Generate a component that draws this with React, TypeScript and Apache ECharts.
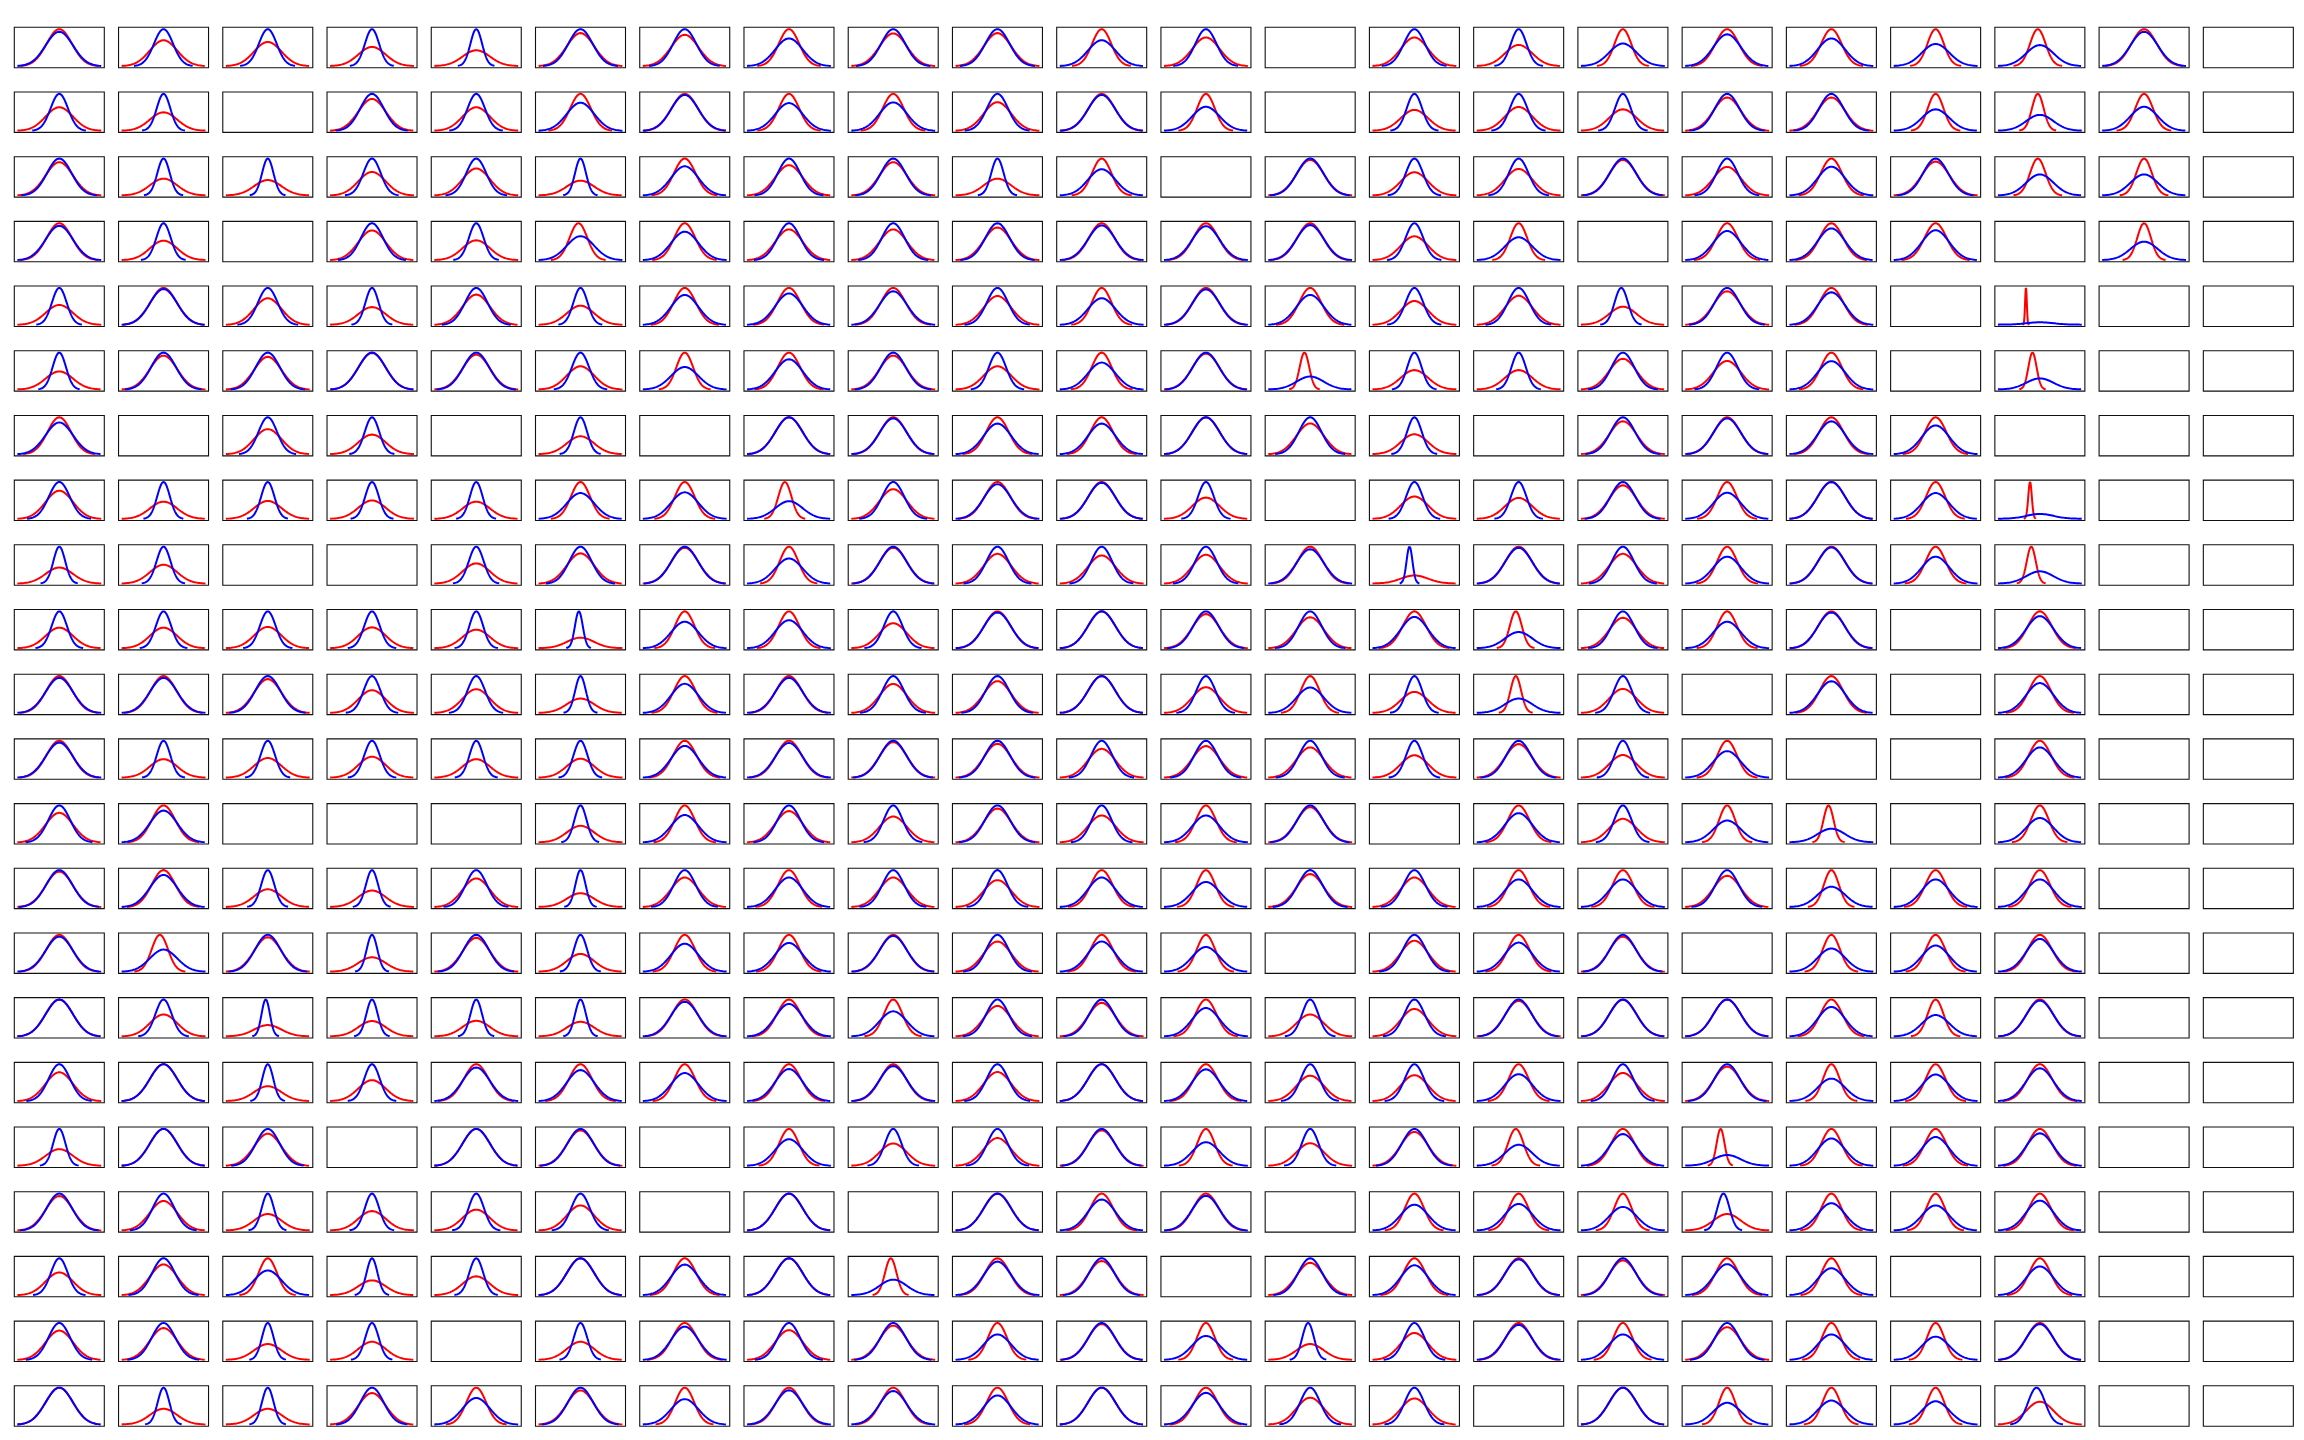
import React, { useEffect, useRef } from "react";
import * as echarts from "echarts";

// Each panel: two normal curves (red drawn first, blue on top), each plotted over mean ± 3σ.
// Value per panel = peak height of the blue curve / peak height of the red curve
// (= σ_red / σ_blue). null = empty panel.
const row01 = [0.93, 1.43, 1.53, 1.93, 2.34, 1.12, 1.18, 0.75, 1.13, 1.12, 0.70, 1.29, null, 1.29, 1.75, 0.61, 0.86, 0.75, 0.60, 0.57, 0.93, null];
const row02 = [1.57, 2.0, null, 1.16, 1.57, 0.76, 0.97, 0.75, 0.77, 1.29, 0.97, 0.65, null, 1.77, 1.55, 1.72, 1.11, 1.11, 0.58, 0.43, 0.65, null];
const row03 = [1.11, 2.2, 2.4, 1.57, 1.37, 2.5, 0.79, 1.22, 1.11, 2.2, 0.71, null, 1.04, 1.59, 1.39, 1.04, 1.29, 0.78, 1.09, 0.57, 0.57, null];
const row04 = [0.93, 1.9, null, 1.24, 1.86, 0.65, 0.77, 1.2, 1.2, 1.13, 0.94, 0.92, 0.95, 1.55, 0.62, null, 0.79, 0.86, 0.81, null, 0.5, null];
const row05 = [1.86, 0.97, 1.39, 2.08, 1.22, 1.93, 0.81, 0.85, 0.91, 1.28, 0.72, 0.96, 0.81, 1.55, 1.27, 2.04, 1.1, 0.88, null, 0.064, null, null];
const row06 = [2.04, 1.09, 1.13, 1.01, 1.06, 1.59, 0.61, 0.82, 1.09, 1.59, 0.73, 1.03, 0.35, 1.9, 1.9, 1.2, 1.29, 0.77, null, 0.30, null, null];
const row07 = [0.86, null, 1.47, 1.88, null, 2.06, null, 1.0, 0.97, 0.83, 0.83, 1.0, 1.2, 1.85, null, 1.12, 0.97, 0.89, 0.78, null, null, null];
const row08 = [1.31, 2.14, 2.06, 2.0, 2.14, 0.70, 0.72, 0.48, 1.24, 0.94, 0.98, 1.73, null, 1.65, 1.76, 1.1, 0.71, 1.0, 0.70, 0.13, null, null];
const row09 = [2.3, 1.96, null, null, 1.83, 1.22, 1.03, 0.68, 1.03, 1.24, 1.31, 1.28, 0.93, 4.6, 0.97, 1.24, 0.73, 0.98, 0.73, 0.33, null, null];
const row10 = [1.79, 1.79, 1.73, 1.76, 1.98, 3.5, 0.72, 0.76, 1.47, 0.97, 1.0, 1.08, 1.19, 0.85, 0.44, 1.21, 0.72, 0.97, null, 0.87, null, null];
const row11 = [0.95, 0.95, 1.09, 1.62, 1.55, 2.56, 0.79, 0.95, 1.27, 1.16, 1.0, 1.43, 0.69, 1.75, 0.39, 1.53, null, 0.86, null, 0.81, null, null];
const row12 = [0.95, 2.0, 1.88, 1.76, 2.0, 1.95, 0.86, 0.94, 1.04, 1.09, 1.28, 1.17, 1.22, 1.65, 1.1, 1.63, 0.72, null, null, 0.82, null, null];
const row13 = [1.25, 0.86, null, null, null, 2.24, 0.74, 1.18, 1.43, 1.09, 1.37, 0.73, 1.05, null, 0.79, 1.57, 0.59, 0.37, null, 0.66, null, null];
const row14 = [1.04, 0.87, 2.08, 2.24, 1.29, 2.68, 1.25, 0.8, 1.25, 1.37, 0.8, 0.68, 1.12, 1.25, 0.75, 0.75, 1.18, 0.55, 0.75, 0.75, null, null];
const row15 = [0.95, 0.6, 1.07, 2.56, 1.09, 2.08, 0.76, 0.78, 0.97, 1.22, 0.82, 0.67, null, 1.19, 0.79, 1.05, null, 0.63, 0.71, 0.89, null, null];
const row16 = [1.0, 1.68, 3.27, 2.41, 2.36, 2.52, 0.94, 0.88, 0.68, 1.21, 1.1, 0.77, 1.68, 1.34, 1.04, 1.01, 1.0, 0.8, 0.58, 0.97, null, null];
const row17 = [1.28, 1.0, 2.48, 1.76, 0.91, 0.84, 0.76, 0.87, 0.95, 1.27, 1.0, 0.86, 1.45, 1.42, 0.73, 1.31, 1.07, 0.61, 0.72, 0.89, null, null];
const row18 = [2.22, 1.0, 1.15, null, 1.0, 1.04, null, 0.72, 1.65, 1.33, 1.04, 0.64, 1.63, 1.09, 0.57, 0.86, 0.29, 0.74, 0.78, 0.88, null, null];
const row19 = [1.07, 1.25, 2.24, 1.9, 1.77, 1.47, null, 1.0, null, 1.0, 0.84, 0.94, null, 0.7, 0.72, 0.64, 2.24, 0.74, 0.68, 0.81, null, null];
const row20 = [1.62, 1.2, 0.67, 2.5, 1.96, 1.0, 0.83, 1.0, 0.42, 0.91, 1.08, null, 1.14, 0.81, 0.97, 1.06, 0.84, 0.73, null, 0.78, null, null];
const row21 = [1.26, 1.16, 2.34, 2.04, null, 2.04, 0.9, 1.24, 1.08, 0.69, 1.03, 0.65, 2.34, 1.37, 0.95, 0.69, 1.13, 0.69, 0.63, 0.97, null, null];
const row22 = [1.0, 2.34, 2.34, 1.17, 0.72, 1.08, 0.69, 0.93, 0.91, 0.79, 1.0, 0.86, 1.37, 1.41, null, 1.0, 0.59, 0.65, 0.63, 1.61, null, null];

const peakRatioRows = [row01, row02, row03, row04, row05, row06, row07, row08, row09, row10, row11,
  row12, row13, row14, row15, row16, row17, row18, row19, row20, row21, row22];

// [row, col, shift]: centre of the narrower curve relative to the wider one,
// in units of the wider curve's half-span (3σ). Rows/cols are 1-based.
const centreShifts = [
  [1, 20, -0.05], [2, 20, -0.05], [3, 20, -0.05], [4, 6, -0.05], [5, 16, -0.04],
  [5, 20, -0.34], [6, 13, -0.14], [6, 20, -0.18], [8, 8, -0.10], [8, 20, -0.24],
  [9, 14, -0.12], [9, 20, -0.21], [10, 6, -0.04], [10, 15, -0.07], [11, 15, -0.07],
  [13, 18, -0.07], [15, 2, -0.09], [16, 3, -0.05], [18, 15, -0.07], [18, 17, -0.16],
  [19, 17, -0.09], [20, 9, -0.06], [21, 13, -0.05], [22, 20, -0.08],
];

const SPAN_SIGMAS = 3;
const N_POINTS = 121;

// layout (pixels)
const PANEL_LEFT0 = 14.3;
const COL_STEP = 104.24;
const PANEL_W = 90;
const PANEL_TOP0 = 27.3;
const ROW_STEP = 64.69;
const PANEL_H = 40.4;

function normalCurve(mu: number, sigma: number): number[][] {
  const pts: number[][] = [];
  const norm = 1 / (sigma * Math.sqrt(2 * Math.PI));
  for (let i = 0; i < N_POINTS; i++) {
    const x = mu - SPAN_SIGMAS * sigma + (2 * SPAN_SIGMAS * sigma * i) / (N_POINTS - 1);
    const z = (x - mu) / sigma;
    pts.push([x, norm * Math.exp(-0.5 * z * z)]);
  }
  return pts;
}

function buildOption() {
  const grids: any[] = [];
  const xAxes: any[] = [];
  const yAxes: any[] = [];
  const series: any[] = [];
  const shiftMap = new Map<string, number>();
  centreShifts.forEach(([r, c, s]) => shiftMap.set(`${r}-${c}`, s));

  peakRatioRows.forEach((row, ri) => {
    row.forEach((p, ci) => {
      const idx = grids.length;
      grids.push({
        left: PANEL_LEFT0 + ci * COL_STEP,
        top: PANEL_TOP0 + ri * ROW_STEP,
        width: PANEL_W,
        height: PANEL_H,
        show: true,
        borderColor: "#111",
        borderWidth: 1.1,
        backgroundColor: "transparent",
        containLabel: false,
      });
      if (p === null || p === undefined) {
        xAxes.push({ gridIndex: idx, type: "value", show: false, min: 0, max: 1 });
        yAxes.push({ gridIndex: idx, type: "value", show: false, min: 0, max: 1 });
        return;
      }
      const sigmaRed = p >= 1 ? 1 : p;
      const sigmaBlue = p >= 1 ? 1 / p : 1;
      const shift = (shiftMap.get(`${ri + 1}-${ci + 1}`) || 0) * SPAN_SIGMAS;
      const muRed = p >= 1 ? 0 : shift;
      const muBlue = p >= 1 ? shift : 0;
      const red = normalCurve(muRed, sigmaRed);
      const blue = normalCurve(muBlue, sigmaBlue);
      const all = red.concat(blue);
      let xmin = Infinity, xmax = -Infinity, ymin = Infinity, ymax = -Infinity;
      all.forEach(([x, y]) => {
        if (x < xmin) xmin = x;
        if (x > xmax) xmax = x;
        if (y < ymin) ymin = y;
        if (y > ymax) ymax = y;
      });
      const xp = 0.05 * (xmax - xmin);
      const yp = 0.05 * (ymax - ymin);
      xAxes.push({ gridIndex: idx, type: "value", show: false, min: xmin - xp, max: xmax + xp });
      yAxes.push({ gridIndex: idx, type: "value", show: false, min: ymin - yp, max: ymax + yp });
      [["#ff0000", red], ["#0000ff", blue]].forEach(([color, data]) => {
        series.push({
          type: "line",
          xAxisIndex: idx,
          yAxisIndex: idx,
          data,
          showSymbol: false,
          symbol: "none",
          silent: true,
          lineStyle: { color, width: 2, cap: "square" },
          itemStyle: { color },
          z: color === "#0000ff" ? 3 : 2,
        });
      });
    });
  });

  return {
    animation: false,
    backgroundColor: "#ffffff",
    grid: grids,
    xAxis: xAxes,
    yAxis: yAxes,
    series,
  };
}

export default function App() {
  const ref = useRef<HTMLDivElement>(null);
  useEffect(() => {
    if (!ref.current) return;
    const chart = echarts.init(ref.current, null, { renderer: "svg" });
    chart.setOption(buildOption() as any);
    return () => chart.dispose();
  }, []);
  return (
    <div
      ref={ref}
      style={{ position: "absolute", left: 0, top: 0, width: 2304, height: 1440, background: "#fff" }}
    />
  );
}
